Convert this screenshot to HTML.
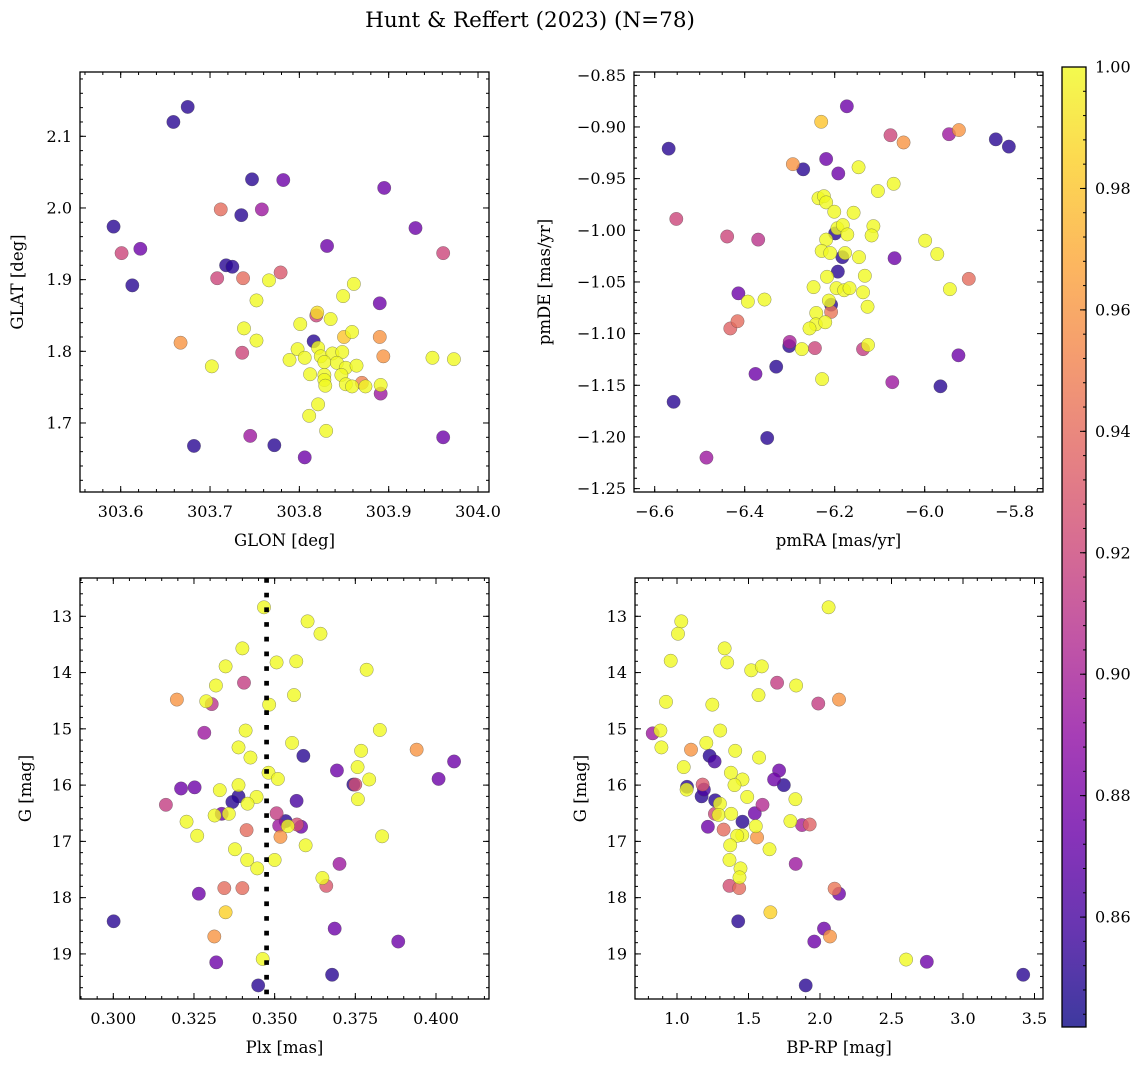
<!DOCTYPE html>
<html><head><meta charset="utf-8"><title>Hunt & Reffert (2023)</title>
<style>
html,body{margin:0;padding:0;background:#fff;}
svg{display:block;font-family:"DejaVu Serif","Liberation Serif",serif;}
</style></head>
<body>
<svg id="fig" width="1148" height="1067" viewBox="0 0 1148 1067" xmlns="http://www.w3.org/2000/svg">
<rect width="1148" height="1067" fill="#fff"/>
<text x="530" y="27" font-size="21.5" text-anchor="middle">Hunt &amp; Reffert (2023) (N=78)</text>
<defs>
<linearGradient id="plasmaGrad" x1="0" y1="1" x2="0" y2="0">
<stop offset="0" stop-color="#0d0887"/><stop offset="0.1" stop-color="#41049d"/><stop offset="0.2" stop-color="#6a00a8"/><stop offset="0.3" stop-color="#8f0da4"/><stop offset="0.4" stop-color="#b12a90"/><stop offset="0.5" stop-color="#cc4778"/><stop offset="0.6" stop-color="#e16462"/><stop offset="0.7" stop-color="#f2844b"/><stop offset="0.8" stop-color="#fca636"/><stop offset="0.9" stop-color="#fcce25"/><stop offset="1" stop-color="#f0f921"/>
</linearGradient>
</defs>
</svg>
<script>
// ---- Panel 1 data: GLON / GLAT ----
const glon = [303.675,303.659,303.747,303.782,303.895,303.712,303.758,303.735,303.592,303.930,303.831,303.601,303.622,303.961,303.718,303.725,303.613,303.708,303.737,303.779,303.766,303.861,303.849,303.752,303.890,303.819,303.820,303.835,303.801,303.738,303.850,303.859,303.890,303.667,303.752,303.816,303.736,303.798,303.821,303.824,303.837,303.848,303.894,303.789,303.806,303.828,303.842,303.852,303.864,303.949,303.973,303.702,303.812,303.828,303.847,303.828,303.829,303.852,303.870,303.874,303.859,303.891,303.891,303.821,303.811,303.830,303.745,303.961,303.682,303.772,303.806];
const glat = [2.141,2.120,2.040,2.039,2.028,1.998,1.998,1.990,1.974,1.972,1.947,1.937,1.943,1.937,1.920,1.918,1.892,1.902,1.902,1.910,1.899,1.894,1.877,1.871,1.867,1.850,1.854,1.845,1.838,1.832,1.820,1.827,1.820,1.812,1.815,1.814,1.798,1.803,1.805,1.793,1.797,1.799,1.793,1.788,1.791,1.785,1.784,1.777,1.780,1.791,1.789,1.779,1.768,1.767,1.767,1.760,1.752,1.754,1.756,1.751,1.751,1.741,1.753,1.726,1.710,1.689,1.682,1.680,1.668,1.669,1.652];
const prob1 = [0.85,0.85,0.85,0.875,0.875,0.94,0.895,0.85,0.85,0.875,0.875,0.92,0.875,0.92,0.85,0.85,0.85,0.92,0.94,0.93,1,1,1,1,0.875,0.92,0.99,1,1,1,0.98,1,0.96,0.96,1,0.85,0.92,1,1,1,1,1,0.96,1,1,1,1,1,1,1,1,1,1,1,1,1,1,1,0.95,1,1,0.895,1,1,1,1,0.895,0.875,0.85,0.85,0.875];
// ---- Panel 2 data: pmRA / pmDE ----
const pmra = [-6.173,-6.230,-6.569,-6.076,-6.047,-5.946,-5.924,-5.842,-5.813,-6.293,-6.270,-6.219,-6.192,-6.147,-6.104,-6.069,-6.236,-6.224,-6.219,-6.201,-6.158,-6.552,-6.439,-6.370,-6.199,-6.194,-6.182,-6.172,-6.114,-6.118,-6.219,-6.229,-6.210,-6.183,-6.177,-6.146,-5.999,-5.972,-6.067,-6.193,-6.217,-6.133,-6.247,-6.196,-6.179,-6.167,-6.137,-5.902,-5.944,-6.414,-6.393,-6.356,-6.208,-6.213,-6.127,-6.208,-6.241,-6.416,-6.432,-6.242,-6.221,-6.256,-6.301,-6.300,-6.273,-6.244,-6.137,-6.126,-5.925,-6.376,-6.330,-6.228,-6.072,-5.965,-6.558,-6.350,-6.485];
const pmde = [-0.880,-0.895,-0.921,-0.908,-0.915,-0.907,-0.903,-0.912,-0.919,-0.936,-0.941,-0.931,-0.945,-0.939,-0.962,-0.955,-0.969,-0.967,-0.973,-0.982,-0.983,-0.989,-1.006,-1.009,-1.003,-0.998,-0.995,-1.004,-0.996,-1.005,-1.009,-1.020,-1.022,-1.026,-1.022,-1.026,-1.010,-1.023,-1.027,-1.040,-1.045,-1.044,-1.055,-1.056,-1.058,-1.056,-1.060,-1.047,-1.057,-1.061,-1.069,-1.067,-1.072,-1.068,-1.074,-1.079,-1.080,-1.088,-1.095,-1.091,-1.089,-1.095,-1.112,-1.108,-1.115,-1.114,-1.115,-1.111,-1.121,-1.139,-1.132,-1.144,-1.147,-1.151,-1.166,-1.201,-1.220];
const prob2 = [0.875,0.98,0.85,0.92,0.96,0.895,0.96,0.85,0.85,0.96,0.85,0.875,0.875,1,1,1,1,1,1,1,1,0.92,0.92,0.91,0.85,1,1,1,1,1,1,1,1,0.85,1,1,1,1,0.875,0.85,1,1,1,1,1,1,1,0.94,1,0.875,1,1,0.85,1,1,0.945,1,0.94,0.935,1,1,1,0.85,0.9,1,0.92,0.915,1,0.875,0.875,0.85,1,0.895,0.85,0.85,0.85,0.895];
// ---- Panel 3 data: Plx / G ----
const plx = [0.3467,0.3602,0.3642,0.3400,0.3506,0.3567,0.3785,0.3348,0.3405,0.3318,0.3197,0.3288,0.3305,0.3483,0.3560,0.3282,0.3410,0.3826,0.3554,0.3388,0.3425,0.3589,0.3940,0.3768,0.4056,0.3693,0.3757,0.3481,0.3510,0.3793,0.4008,0.3744,0.3750,0.3210,0.3252,0.3330,0.3388,0.3388,0.3369,0.3444,0.3416,0.3758,0.3568,0.3163,0.3336,0.3314,0.3358,0.3506,0.3227,0.3534,0.3514,0.3569,0.3582,0.3541,0.3413,0.3260,0.3518,0.3833,0.3596,0.3377,0.3415,0.3500,0.3446,0.3701,0.3648,0.3660,0.3344,0.3400,0.3265,0.3348,0.3001,0.3686,0.3883,0.3313,0.3319,0.3463,0.3678,0.3449];
const gmag3 = [12.84,13.09,13.31,13.57,13.82,13.80,13.95,13.89,14.18,14.23,14.48,14.51,14.56,14.57,14.40,15.07,15.03,15.02,15.25,15.33,15.51,15.48,15.37,15.39,15.58,15.74,15.68,15.78,15.89,15.90,15.89,15.99,15.99,16.06,16.04,16.09,16.00,16.20,16.30,16.21,16.33,16.25,16.28,16.35,16.51,16.54,16.51,16.50,16.65,16.64,16.72,16.70,16.74,16.73,16.80,16.90,16.92,16.91,17.07,17.14,17.33,17.33,17.48,17.40,17.65,17.79,17.83,17.83,17.93,18.26,18.42,18.55,18.78,18.69,19.15,19.09,19.37,19.56];
const prob3 = [1,1,1,1,1,1,1,1,0.915,1,0.96,1,0.91,1,1,0.895,1,1,1,1,1,0.85,0.96,1,0.875,0.875,1,1,1,1,0.875,0.85,0.925,0.875,0.875,1,1,0.85,0.85,1,1,1,0.86,0.915,0.875,1,1,0.915,1,0.85,0.895,0.925,0.875,1,0.94,1,0.96,1,1,1,1,1,1,0.895,1,0.93,0.94,0.94,0.875,0.985,0.85,0.875,0.875,0.96,0.875,1,0.85,0.85];
// ---- Panel 4 data: BP-RP / G ----
const bprp = [2.060,1.030,1.007,0.956,1.333,1.351,1.519,1.593,1.700,1.833,1.570,1.988,2.133,0.923,1.247,0.830,0.884,1.302,0.891,1.098,1.205,1.228,1.263,1.407,1.574,1.047,1.714,1.377,1.679,1.747,1.458,1.070,1.179,1.067,1.188,1.172,1.402,1.491,1.828,1.267,1.300,1.598,1.265,1.291,1.379,1.544,1.216,1.326,1.458,1.793,1.874,1.928,1.551,1.456,1.421,1.560,1.372,1.647,1.367,1.444,1.830,1.437,1.367,1.435,2.102,2.133,1.653,1.428,2.028,2.070,1.960,2.602,2.747,3.421,1.900];
const gmag4 = [12.84,13.09,13.31,13.79,13.57,13.82,13.96,13.89,14.18,14.23,14.40,14.55,14.48,14.52,14.57,15.08,15.03,15.03,15.33,15.37,15.25,15.48,15.58,15.39,15.51,15.68,15.74,15.78,15.90,16.00,15.90,16.03,15.99,16.08,16.08,16.20,16.00,16.21,16.25,16.27,16.33,16.35,16.51,16.53,16.51,16.50,16.74,16.79,16.65,16.64,16.71,16.70,16.73,16.89,16.90,16.93,17.07,17.14,17.33,17.48,17.40,17.64,17.79,17.83,17.84,17.93,18.26,18.42,18.55,18.69,18.78,19.10,19.14,19.37,19.56];
const prob4 = [1,1,1,1,1,1,1,1,0.915,1,1,0.915,0.96,1,1,0.895,1,1,1,0.96,1,0.85,0.86,1,1,1,0.875,1,0.875,0.85,1,0.85,0.93,1,0.86,0.85,1,1,1,0.85,1,0.905,0.92,1,1,0.875,0.875,0.94,0.85,1,0.9,0.935,1,1,1,0.96,1,1,1,1,0.895,1,0.925,0.94,0.945,0.875,0.985,0.85,0.875,0.96,0.875,1,0.875,0.85,0.85];
// ---- colorbar ticks ----
const cbTicks = [0.86,0.88,0.90,0.92,0.94,0.96,0.98,1.00];

const NS = "http://www.w3.org/2000/svg";
const svg = document.getElementById("fig");
function mk(tag, attrs, parent){const e=document.createElementNS(NS,tag);for(const k in attrs)e.setAttribute(k,attrs[k]);(parent||svg).appendChild(e);return e;}

const VMIN=0.8419, VMAX=1.0;
const stops=["#0d0887","#41049d","#6a00a8","#8f0da4","#b12a90","#cc4778","#e16462","#f2844b","#fca636","#fcce25","#f0f921"];
function hex(h){return [parseInt(h.substr(1,2),16),parseInt(h.substr(3,2),16),parseInt(h.substr(5,2),16)];}
function plasma(v){let t=(v-VMIN)/(VMAX-VMIN);t=Math.max(0,Math.min(1,t));const f=t*10,i=Math.min(9,Math.floor(f)),r=f-i;const a=hex(stops[i]),b=hex(stops[i+1]);return "rgb("+a.map((c,k)=>Math.round(c+(b[k]-c)*r)).join(",")+")";}

function fmt(v,dec){const s=Math.abs(v).toFixed(dec);return (v<-1e-9?"\u2212":"")+s;}

function scale(v0,p0,ppu){return v=>p0+(v-v0)*ppu;}

function panel(cfg){
  const g=mk("g",{});
  
  
  const {L,R,T,B}=cfg;
  const sx=scale(cfg.xv0,cfg.xp0,cfg.xppu), sy=scale(cfg.yv0,cfg.yp0,cfg.yppu);
  const xmin=cfg.xv0+(L-cfg.xp0)/cfg.xppu, xmax=cfg.xv0+(R-cfg.xp0)/cfg.xppu;
  const ya=cfg.yv0+(T-cfg.yp0)/cfg.yppu, yb=cfg.yv0+(B-cfg.yp0)/cfg.yppu;
  const ymin=Math.min(ya,yb), ymax=Math.max(ya,yb);
  const clipId="clip_"+cfg.name;
  const cp=mk("clipPath",{id:clipId},g);mk("rect",{x:L,y:T,width:R-L,height:B-T},cp);
  const pts=mk("g",{"clip-path":"url(#"+clipId+")"},g);
  
  
  const idx=cfg.xs.map((_,i)=>i).sort((a,b)=>cfg.ps[a]-cfg.ps[b]);
  idx.forEach(i=>{
    const c=mk("circle",{cx:sx(cfg.xs[i]).toFixed(2),cy:sy(cfg.ys[i]).toFixed(2),r:6.7,fill:plasma(cfg.ps[i]),"fill-opacity":0.8,stroke:"#4a4a4a","stroke-opacity":0.6,"stroke-width":0.5},pts);
    
    
  });
  if(cfg.vline!==undefined){
    const l=mk("line",{x1:sx(cfg.vline),x2:sx(cfg.vline),y1:T,y2:B,stroke:"#000","stroke-width":4.7,"stroke-dasharray":"4.7 10"},g);
    
    
  }
  const tk=mk("g",{stroke:"#000","stroke-width":1},g);
  
  
  function ticks(min,max,step){const a=[];for(let k=Math.ceil(min/step-1e-6);k<=Math.floor(max/step+1e-6);k++)a.push(+(k*step).toFixed(6));return a;}
  ticks(xmin,xmax,cfg.xminor).forEach(v=>{const x=sx(v);mk("line",{x1:x,x2:x,y1:B,y2:B-3},tk);mk("line",{x1:x,x2:x,y1:T,y2:T+3},tk);});
  ticks(ymin,ymax,cfg.yminor).forEach(v=>{const y=sy(v);mk("line",{x1:L,x2:L+3,y1:y,y2:y},tk);mk("line",{x1:R,x2:R-3,y1:y,y2:y},tk);});
  ticks(xmin,xmax,cfg.xmajor).forEach(v=>{const x=sx(v);mk("line",{x1:x,x2:x,y1:B,y2:B-6},tk);mk("line",{x1:x,x2:x,y1:T,y2:T+6},tk);
    const t=mk("text",{x:x,y:B+25,"font-size":16,"text-anchor":"middle"},g);t.textContent=fmt(v,cfg.xdec);
    
    });
  ticks(ymin,ymax,cfg.ymajor).forEach(v=>{const y=sy(v);mk("line",{x1:L,x2:L+6,y1:y,y2:y},tk);mk("line",{x1:R,x2:R-6,y1:y,y2:y},tk);
    const t=mk("text",{x:L-8,y:y+5.5,"font-size":16,"text-anchor":"end"},g);t.textContent=fmt(v,cfg.ydec);
    
    });
  const fr=mk("rect",{x:L,y:T,width:R-L,height:B-T,fill:"none",stroke:"#000","stroke-width":1.3},g);
  
  
  const xl=mk("text",{x:(L+R)/2,y:B+54,"font-size":16.5,"text-anchor":"middle"},g);xl.textContent=cfg.xlabel;
  
  
  const yx=cfg.ylabx, yy=(T+B)/2;
  const yl=mk("text",{x:yx,y:yy,"font-size":16.5,"text-anchor":"middle",transform:"rotate(-90 "+yx+" "+yy+")"},g);yl.textContent=cfg.ylabel;
  
  
}

panel({name:"glon-glat-panel",L:80,R:489,T:72,B:492,xs:glon,ys:glat,ps:prob1,
  xv0:303.6,xp0:120.7,xppu:893.3,yv0:2.1,yp0:136.3,yppu:-716.7,
  xmajor:0.1,xminor:0.02,ymajor:0.1,yminor:0.02,xdec:1,ydec:1,xlabel:"GLON [deg]",ylabel:"GLAT [deg]",ylabx:23});
panel({name:"proper-motion-panel",L:634,R:1043,T:72,B:492,xs:pmra,ys:pmde,ps:prob2,
  xv0:-6.6,xp0:654.7,xppu:450,yv0:-0.85,yp0:75.3,yppu:-1033.3,
  xmajor:0.2,xminor:0.05,ymajor:0.05,yminor:0.01,xdec:1,ydec:2,xlabel:"pmRA [mas/yr]",ylabel:"pmDE [mas/yr]",ylabx:550});
panel({name:"parallax-panel",L:80,R:489,T:578,B:999,xs:plx,ys:gmag3,ps:prob3,vline:0.3475,
  xv0:0.300,xp0:113.3,xppu:3227,yv0:13,yp0:616.3,yppu:56.27,
  xmajor:0.025,xminor:0.005,ymajor:1,yminor:0.2,xdec:3,ydec:0,xlabel:"Plx [mas]",ylabel:"G [mag]",ylabx:31});
panel({name:"cmd-panel",L:635,R:1043,T:578,B:999,xs:bprp,ys:gmag4,ps:prob4,
  xv0:1.0,xp0:677,xppu:143,yv0:13,yp0:616.3,yppu:56.27,
  xmajor:0.5,xminor:0.1,ymajor:1,yminor:0.2,xdec:1,ydec:0,xlabel:"BP-RP [mag]",ylabel:"G [mag]",ylabx:586});

// colorbar
(function(){
  const L=1062,R=1086,T=67,B=1027;
  const cb=mk("g",{});
  
  
  mk("rect",{x:L,y:T,width:R-L,height:B-T,fill:"url(#plasmaGrad)","fill-opacity":0.8},cb);
  const cy=v=>T+(VMAX-v)*(B-T)/(VMAX-VMIN);
  for(let k=Math.ceil(VMIN/0.004);k<=Math.floor(VMAX/0.004+1e-6);k++){const y=cy(k*0.004);mk("line",{x1:R,x2:R-3,y1:y,y2:y,stroke:"#000"},cb);}
  cbTicks.forEach(v=>{const y=cy(v);mk("line",{x1:R,x2:R-6,y1:y,y2:y,stroke:"#000"},cb);
    const t=mk("text",{x:R+9,y:y+5.5,"font-size":16},cb);t.textContent=v.toFixed(2);
    
    });
  mk("rect",{x:L,y:T,width:R-L,height:B-T,fill:"none",stroke:"#000","stroke-width":1.3},cb);
})();
</script>
</body></html>
